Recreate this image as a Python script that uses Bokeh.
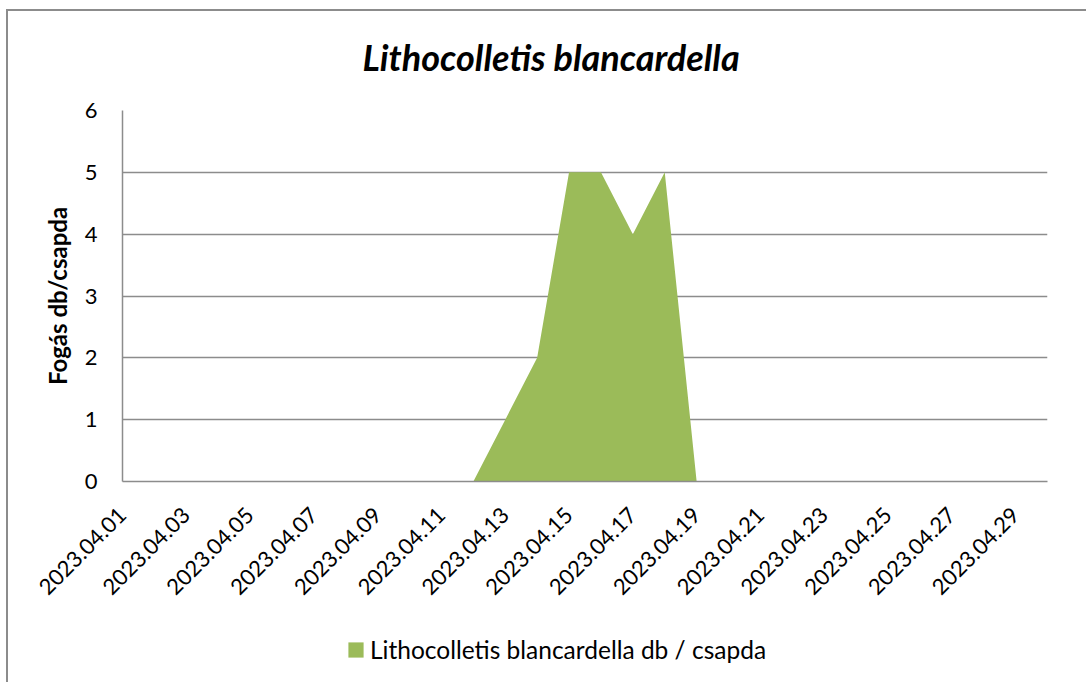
import math
from bokeh.plotting import figure
from bokeh.layouts import column
from bokeh.models import (ColumnDataSource, Range1d, FixedTicker, Legend, LegendItem, Title)
from bokeh.embed import file_html
from bokeh.resources import INLINE

# ---- data ----
dates = ["2023.04.%02d" % d for d in range(1, 31)]
values = [0, 0, 0, 0, 0, 0, 0, 0, 0, 0,
          0, 0, 1, 2, 5, 5, 4, 5, 0, 0,
          0, 0, 0, 0, 0, 0, 0, 0, 0, 0]
y_ticks = [0, 1, 2, 3, 4, 5, 6]
series_name = "Lithocolletis blancardella db / csapda"
title_text = "Lithocolletis blancardella"
y_label = "Fogás db/csapda"

FONT = "Lato"
GREEN = "#9BBB59"
GRID = "#8c8c8c"

idx = list(range(len(dates)))
src = ColumnDataSource(dict(x=idx, y=values, zero=[0] * len(values)))

# ---- main chart ----
p = figure(width=1086, height=625, output_backend="svg", toolbar_location=None,
           x_range=Range1d(0, len(dates) - 1), y_range=Range1d(0, 6),
           min_border_left=122, min_border_right=39, min_border_top=110,
           min_border_bottom=144)
p.outline_line_color = None
p.background_fill_color = "white"
p.border_fill_color = None

r = p.varea(x="x", y1="zero", y2="y", source=src, fill_color=GREEN)

p.title = Title(text=title_text, text_font=FONT, text_font_size="36px",
                text_font_style="bold italic", align="left", offset=240,
                text_color="black", standoff=63)

p.xaxis.ticker = FixedTicker(ticks=idx[::2])
p.xaxis.major_label_overrides = {i: dates[i] for i in idx[::2]}
p.xaxis.major_label_orientation = math.pi / 4
p.xaxis.major_label_text_font = FONT
p.xaxis.major_label_text_font_size = "22px"
p.xaxis.major_label_text_color = "black"
p.xaxis.major_label_standoff = 30
p.xaxis.major_tick_out = 0
p.xaxis.major_tick_in = 0
p.xaxis.minor_tick_line_color = None
p.xaxis.axis_line_color = GRID
p.xaxis.axis_line_width = 1.5

p.yaxis.ticker = FixedTicker(ticks=y_ticks)
p.yaxis.major_label_text_font = FONT
p.yaxis.major_label_text_font_size = "22px"
p.yaxis.major_label_text_color = "black"
p.yaxis.major_label_standoff = 25
p.yaxis.major_tick_out = 0
p.yaxis.major_tick_in = 0
p.yaxis.minor_tick_line_color = None
p.yaxis.axis_line_color = GRID
p.yaxis.axis_line_width = 1.5
p.yaxis.axis_label = y_label
p.yaxis.axis_label_text_font = FONT
p.yaxis.axis_label_text_font_size = "24px"
p.yaxis.axis_label_text_font_style = "bold"
p.yaxis.axis_label_text_color = "black"
p.yaxis.axis_label_standoff = 10

p.xgrid.grid_line_color = None
p.ygrid.grid_line_color = GRID
p.ygrid.grid_line_width = 1.5
p.ygrid.ticker = FixedTicker(ticks=y_ticks)

# outer chart border: left and top edges (drawn behind the transparent border area)
p.styles = {
    "background-color": "white",
    "background-image": "linear-gradient(#8c8c8c, #8c8c8c), linear-gradient(#8c8c8c, #8c8c8c)",
    "background-repeat": "no-repeat",
    "background-position": "6px 9px, 6px 9px",
    "background-size": "2px 100%, 100% 2px",
}

# ---- legend strip below the chart ----
p2 = figure(width=1086, height=57, output_backend="svg", toolbar_location=None,
            x_axis_type=None, y_axis_type=None,
            x_range=Range1d(100, 101), y_range=Range1d(0, 6),
            min_border_left=0, min_border_right=0, min_border_top=0, min_border_bottom=0)
p2.outline_line_color = None
p2.background_fill_color = None
p2.border_fill_color = None
p2.grid.visible = False
r2 = p2.varea(x="x", y1="zero", y2="y", source=src, fill_color=GREEN)

legend = Legend(items=[LegendItem(label=series_name, renderers=[r2])],
                location=(224, 18), orientation="horizontal",
                glyph_width=19, glyph_height=19, label_standoff=5,
                padding=0, margin=0, border_line_color=None,
                background_fill_alpha=0,
                label_text_font=FONT, label_text_font_size="24.5px",
                label_text_color="black")
p2.add_layout(legend, "center")
p2.styles = {
    "background-color": "white",
    "background-image": "linear-gradient(#8c8c8c, #8c8c8c)",
    "background-repeat": "no-repeat",
    "background-position": "6px 0px",
    "background-size": "2px 100%",
}

layout = column(p, p2, spacing=0)
open("out.html", "w").write(file_html(layout, INLINE))
